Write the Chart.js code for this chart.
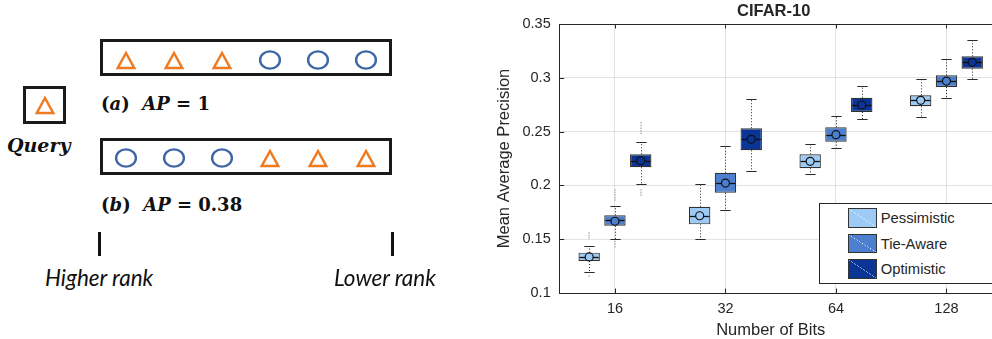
<!DOCTYPE html>
<html>
<head>
<meta charset="utf-8">
<script src="https://cdn.jsdelivr.net/npm/chart.js@4.4.1/dist/chart.umd.min.js"></script>
<style>
  html, body { margin: 0; padding: 0; width: 992px; height: 339px; overflow: hidden; background: #fff; }
  body { position: relative; }
  .abs { position: absolute; }
  .rankbox { position: absolute; left: 100px; width: 292px; height: 37px; border: 3px solid #1a1a1a; box-sizing: border-box; }
  #query { left: 23px; top: 86px; width: 43px; height: 38px; border: 3px solid #1a1a1a; box-sizing: border-box;
           display: flex; align-items: center; justify-content: center; }
  .math { font-family: "DejaVu Serif"; font-weight: bold; font-size: 18px; line-height: 18px; color: #111; white-space: pre; }
  .math i { font-style: italic; }
  .qtxt { font-family: "DejaVu Serif"; font-weight: bold; font-style: italic; font-size: 19px; line-height: 19px; color: #111; }
  .rank { font-family: Lato; font-style: italic; font-size: 22.5px; line-height: 22.5px; color: #111; white-space: pre; }
  .tick { position: absolute; width: 3px; height: 24px; top: 232px; background: #111; }
  #leftCanvas { position: absolute; left: 0; top: 0; }
  #rightWrap { position: absolute; left: 480px; top: 0; }
  #legend { position: absolute; left: 819px; top: 203px; width: 200px; height: 81px; border: 1px solid #262626;
            box-sizing: border-box; background: #fff; padding-top: 1.3px; font: 14.8px "Liberation Sans"; color: #262626; }
  .lg-row { height: 25.5px; display: flex; align-items: center; margin-left: 28.3px; }
  .sw { width: 29px; height: 19.5px; box-sizing: border-box; border: 1px solid #333; margin-right: 3.4px;
        background: linear-gradient(to top right, var(--c) calc(50% - 0.3px), rgba(255,255,255,0.18) 50%, var(--c) calc(50% + 0.3px)); }
</style>
</head>
<body>
<!-- left: ranking illustration -->
<div class="rankbox" style="top:39px"></div>
<div class="rankbox" style="top:138px"></div>
<div id="query" class="abs"></div>
<div class="abs qtxt" style="left:7px; top:135.6px">Query</div>
<div class="abs math" style="left:101px; top:94.8px">(<i>a</i>)  <i>AP</i> = 1</div>
<div class="abs math" style="left:101px; top:195.5px">(<i>b</i>)  <i>AP</i> = 0.38</div>
<div class="tick" style="left:98px"></div>
<div class="tick" style="left:391px"></div>
<div class="abs rank" style="left:45px; top:266.7px">Higher rank</div>
<div class="abs rank" style="left:334px; top:266.7px">Lower rank</div>
<canvas id="leftCanvas" width="420" height="339"></canvas>

<!-- right: box plot -->
<div id="rightWrap"><canvas id="boxChart" width="540" height="339"></canvas></div>
<div id="legend"></div>

<script>
// ---------- data: ranking example ----------
const rankA = ['relevant', 'relevant', 'relevant', 'irrelevant', 'irrelevant', 'irrelevant']; // (a)
const rankB = ['irrelevant', 'irrelevant', 'irrelevant', 'relevant', 'relevant', 'relevant']; // (b)
const rankRows = [rankA, rankB];

// ---------- data: CIFAR-10 box plot ----------
const bits = ['16', '32', '64', '128'];
const seriesNames = ['Pessimistic', 'Tie-Aware', 'Optimistic'];
const seriesColors = ['#9dcbf6', '#4c7fcf', '#0b3497'];
const yTickLabels = ['0.1', '0.15', '0.2', '0.25', '0.3', '0.35'];
const chartTitle = 'CIFAR-10';
const xAxisTitle = 'Number of Bits';
const yAxisTitle = 'Mean Average Precision';

// [lower whisker, q1, median, q3, upper whisker] per bit length
const pessimisticBoxes = [
  [0.1195, 0.1297, 0.1335, 0.1375, 0.1437],
  [0.1500, 0.1638, 0.1718, 0.1802, 0.2016],
  [0.2103, 0.2159, 0.2224, 0.2289, 0.2388],
  [0.2638, 0.2735, 0.2791, 0.2837, 0.2989]
];
const tieAwareBoxes = [
  [0.1500, 0.1625, 0.1674, 0.1722, 0.1806],
  [0.1771, 0.1932, 0.2022, 0.2118, 0.2366],
  [0.2348, 0.2406, 0.2471, 0.2540, 0.2645],
  [0.2815, 0.2914, 0.2970, 0.3023, 0.3175]
];
const optimisticBoxes = [
  [0.2013, 0.2168, 0.2230, 0.2289, 0.2403],
  [0.2134, 0.2326, 0.2428, 0.2531, 0.2806],
  [0.2617, 0.2682, 0.2747, 0.2815, 0.2924],
  [0.2986, 0.3085, 0.3144, 0.3200, 0.3354]
];
const pessimisticMeans = [0.1335, 0.1718, 0.2224, 0.2791];
const tieAwareMeans = [0.1667, 0.2022, 0.2471, 0.2970];
const optimisticMeans = [0.2230, 0.2428, 0.2747, 0.3144];
const pessimisticOutliers = [[0.1557, 0.1534, 0.1511, 0.1158], [], [], []];
const tieAwareOutliers = [[0.1957, 0.1934, 0.1911, 0.1887, 0.1864, 0.1477, 0.1453, 0.1430], [], [], []];
const optimisticOutliers = [[0.2583, 0.2557, 0.2531, 0.2507, 0.2484, 0.1957, 0.1934, 0.1911], [], [], []];

// ---------- left illustration ----------
const ORANGE = '#ee7a22';
const BLUE = '#3f67a3';

function triangleIcon() {
  const c = document.createElement('canvas');
  c.width = 24; c.height = 24;
  const g = c.getContext('2d');
  g.strokeStyle = ORANGE; g.lineWidth = 2.5; g.lineJoin = 'miter';
  g.beginPath(); g.moveTo(12, 5); g.lineTo(20.25, 20); g.lineTo(3.75, 20); g.closePath(); g.stroke();
  return c;
}
function circleIcon() {
  const c = document.createElement('canvas');
  c.width = 24; c.height = 24;
  const g = c.getContext('2d');
  g.strokeStyle = BLUE; g.lineWidth = 2.4;
  g.beginPath(); g.ellipse(12, 12, 9.9, 8.6, 0, 0, Math.PI * 2); g.stroke();
  return c;
}

const toPoints = kind => rankRows.flatMap((row, r) =>
  row.map((k, i) => (k === kind ? { x: i + 1, y: rankRows.length - 1 - r } : null)).filter(Boolean));

document.getElementById('query').appendChild(triangleIcon());

new Chart(document.getElementById('leftCanvas'), {
  type: 'scatter',
  data: {
    datasets: [
      { data: toPoints('relevant'), pointStyle: triangleIcon(), pointRadius: 10 },
      { data: toPoints('irrelevant'), pointStyle: circleIcon(), pointRadius: 10 }
    ]
  },
  options: {
    responsive: false,
    animation: false,
    layout: { padding: { left: 102, right: 30, top: 7, bottom: 132 } },
    scales: {
      x: { display: false, min: 0.5, max: 6.5 },
      y: { display: false, min: -0.5, max: 1.5 }
    },
    plugins: { legend: { display: false }, tooltip: { enabled: false } }
  }
});

// ---------- right box plot ----------
const TEXT = '#262626';
const FONT = '"Liberation Sans", Arial, sans-serif';

const boxPlot = {
  id: 'boxPlot',
  beforeDatasetsDraw(chart) {
    const { ctx, scales: { y } } = chart;
    chart.data.datasets.forEach((ds, i) => {
      chart.getDatasetMeta(i).data.forEach((bar, j) => {
        const [lo, q1, , q3, hi] = ds.stats[j];
        const x = Math.round(bar.x) + 0.5;
        const cap = bar.width * 0.24;
        ctx.save();
        // dotted whiskers
        ctx.strokeStyle = '#222';
        ctx.lineWidth = 1;
        ctx.setLineDash([1, 2]);
        ctx.beginPath();
        ctx.moveTo(x, y.getPixelForValue(q3)); ctx.lineTo(x, y.getPixelForValue(hi));
        ctx.moveTo(x, y.getPixelForValue(q1)); ctx.lineTo(x, y.getPixelForValue(lo));
        ctx.stroke();
        ctx.setLineDash([]);
        // caps
        ctx.strokeStyle = '#2a2a2a';
        ctx.lineWidth = 1.2;
        ctx.beginPath();
        [lo, hi].forEach(v => {
          const py = Math.round(y.getPixelForValue(v)) + 0.5;
          ctx.moveTo(x - cap, py); ctx.lineTo(x + cap, py);
        });
        ctx.stroke();
        // outliers
        ctx.fillStyle = '#b5b5b5';
        ds.outliers[j].forEach(v => {
          const py = y.getPixelForValue(v);
          ctx.fillRect(x - 1.25, py - 0.75, 1.5, 1.5);
        });
        ctx.restore();
      });
    });
  },
  afterDatasetsDraw(chart) {
    const { ctx, scales: { y } } = chart;
    chart.data.datasets.forEach((ds, i) => {
      chart.getDatasetMeta(i).data.forEach((bar, j) => {
        const half = bar.width / 2;
        const py = Math.round(y.getPixelForValue(ds.stats[j][2])) + 0.5;
        ctx.save();
        ctx.strokeStyle = '#111';
        ctx.lineWidth = 1.3;
        ctx.beginPath(); ctx.moveTo(bar.x - half + 1, py); ctx.lineTo(bar.x + half - 1, py); ctx.stroke();
        ctx.beginPath();
        ctx.arc(bar.x, y.getPixelForValue(ds.means[j]), 4, 0, Math.PI * 2);
        ctx.fillStyle = ds.backgroundColor;
        ctx.fill();
        ctx.lineWidth = 1.2;
        ctx.stroke();
        ctx.restore();
      });
    });
  }
};

// top border, inward ticks, title and x label
const frame = {
  id: 'frame',
  afterDraw(chart) {
    const { ctx, chartArea: a, scales: { x, y } } = chart;
    ctx.save();
    ctx.strokeStyle = TEXT;
    ctx.lineWidth = 1;
    ctx.beginPath();
    const top = Math.round(a.top) + 0.5;
    ctx.moveTo(a.left, top); ctx.lineTo(a.right, top);
    x.ticks.forEach((t, i) => {
      const px = Math.round(x.getPixelForTick(i)) + 0.5;
      ctx.moveTo(px, a.top); ctx.lineTo(px, a.top + 4.5);
      ctx.moveTo(px, a.bottom); ctx.lineTo(px, a.bottom - 4.5);
    });
    y.ticks.forEach(t => {
      const py = Math.round(y.getPixelForValue(t.value)) + 0.5;
      ctx.moveTo(a.left, py); ctx.lineTo(a.left + 4.5, py);
    });
    ctx.stroke();
    ctx.fillStyle = TEXT;
    ctx.textAlign = 'center';
    ctx.textBaseline = 'alphabetic';
    ctx.font = 'bold 16.5px ' + FONT;
    ctx.fillText(chartTitle, a.left + 214, 16);
    ctx.font = '16.5px ' + FONT;
    ctx.fillText(xAxisTitle, a.left + 211, 335);
    ctx.restore();
  }
};

const boxSets = [pessimisticBoxes, tieAwareBoxes, optimisticBoxes];
const meanSets = [pessimisticMeans, tieAwareMeans, optimisticMeans];
const outlierSets = [pessimisticOutliers, tieAwareOutliers, optimisticOutliers];

new Chart(document.getElementById('boxChart'), {
  type: 'bar',
  data: {
    labels: bits,
    datasets: seriesNames.map((name, i) => ({
      label: name,
      data: boxSets[i].map(b => [b[1], b[3]]),
      stats: boxSets[i],
      means: meanSets[i],
      outliers: outlierSets[i],
      backgroundColor: seriesColors[i],
      borderColor: '#303030',
      borderWidth: 1.2,
      borderSkipped: false,
      categoryPercentage: 0.70,
      barPercentage: 0.83
    }))
  },
  options: {
    responsive: false,
    animation: false,
    layout: { padding: { left: 11, right: 18.3, top: 24, bottom: 0 } },
    scales: {
      x: {
        offset: true,
        afterFit: s => { s.height = 46; },
        grid: { offset: false, color: 'rgba(38,38,38,0.13)', drawTicks: false },
        border: { color: TEXT, width: 1 },
        ticks: { color: TEXT, padding: 7, font: { family: FONT, size: 14.5 } }
      },
      y: {
        min: 0.1,
        max: 0.35,
        afterFit: s => { s.width = 68.7; },
        grid: { color: 'rgba(38,38,38,0.13)', drawTicks: false },
        border: { color: TEXT, width: 1 },
        ticks: { stepSize: 0.05, color: TEXT, padding: 9, font: { family: FONT, size: 14.5 },
                 callback: (v, i) => yTickLabels[i] },
        title: { display: true, text: yAxisTitle, color: TEXT, font: { family: FONT, size: 16.5 } }
      }
    },
    plugins: { legend: { display: false }, tooltip: { enabled: false } }
  },
  plugins: [boxPlot, frame]
});

// legend inside the axes
const legend = document.getElementById('legend');
seriesNames.forEach((name, i) => {
  const row = document.createElement('div');
  row.className = 'lg-row';
  row.innerHTML = `<span class="sw" style="--c:${seriesColors[i]}"></span><span>${name}</span>`;
  legend.appendChild(row);
});
</script>
</body>
</html>
